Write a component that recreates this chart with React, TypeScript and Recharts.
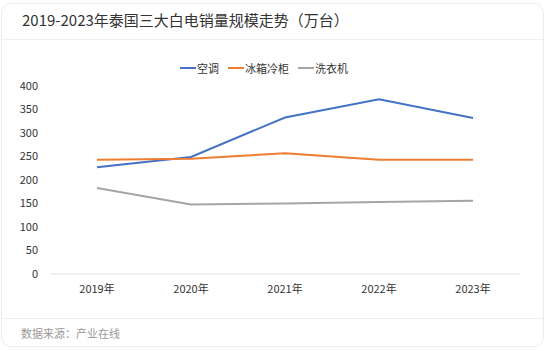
import { LineChart, Line, XAxis, YAxis, Legend, CartesianGrid } from "recharts";

const years = ["2019年", "2020年", "2021年", "2022年", "2023年"];
const airCon = [227, 249, 333, 372, 332];
const fridge = [243, 245, 257, 243, 243];
const washer = [183, 148, 150, 153, 156];
const yTicks = [0, 50, 100, 150, 200, 250, 300, 350, 400];

const series = [
  { key: "airCon", name: "空调", color: "#4472C4" },
  { key: "fridge", name: "冰箱冷柜", color: "#ED7D31" },
  { key: "washer", name: "洗衣机", color: "#A5A5A5" },
];

const data = years.map((year, i) => ({
  year,
  airCon: airCon[i],
  fridge: fridge[i],
  washer: washer[i],
}));

const font = '"Noto Sans CJK SC", "Noto Sans", sans-serif';

function LegendRow() {
  return (
    <div style={{ display: "flex", justifyContent: "center", gap: 9, height: 16, fontSize: 11, color: "#333", fontFamily: font, paddingLeft: 8 }}>
      {series.map((s) => (
        <div key={s.key} style={{ display: "flex", alignItems: "center" }}>
          <span style={{ width: 16, height: 2, background: s.color, marginRight: 1 }} />
          <span>{s.name}</span>
        </div>
      ))}
    </div>
  );
}

export default function App() {
  return (
    <div style={{ position: "absolute", left: 0, top: 0, width: 548, height: 351, background: "#fff", fontFamily: font }}>
      <div style={{ position: "absolute", left: 1, top: 3, width: 543, height: 344, border: "1px solid #ececec", borderRadius: 10, boxSizing: "border-box" }} />
      <div style={{ position: "absolute", left: 22, top: 9, fontSize: 15, color: "#333", lineHeight: "22px" }}>
        2019-2023年泰国三大白电销量规模走势（万台）
      </div>
      <div style={{ position: "absolute", left: 2, top: 39, width: 541, height: 1, background: "#f0f0f0" }} />
      <div style={{ position: "absolute", left: 0, top: 0 }}>
        <LineChart width={548} height={310} data={data} margin={{ top: 70, right: 28, bottom: 6, left: 0 }}>
          <CartesianGrid horizontal={false} vertical={false} />
          <Legend verticalAlign="top" wrapperStyle={{ top: 60 }} content={() => <LegendRow />} />
          <XAxis
            dataKey="year"
            tickLine={false}
            axisLine={{ stroke: "#e3e3e3" }}
            tick={{ fontSize: 11, fill: "#333", fontFamily: font }}
            tickMargin={5}
            padding={{ left: 47, right: 47 }}
            height={30}
          />
          <YAxis
            domain={[0, 400]}
            ticks={yTicks}
            axisLine={false}
            tickLine={false}
            tickSize={0}
            tickMargin={12}
            width={50}
            tick={{ fontSize: 11, fill: "#333", fontFamily: font }}
          />
          {series.map((s) => (
            <Line
              key={s.key}
              type="linear"
              dataKey={s.key}
              name={s.name}
              stroke={s.color}
              strokeWidth={2}
              dot={false}
              isAnimationActive={false}
            />
          ))}
        </LineChart>
      </div>
      <div style={{ position: "absolute", left: 2, top: 318, width: 541, height: 1, background: "#f0f0f0" }} />
      <div style={{ position: "absolute", left: 21, top: 325, fontSize: 11, color: "#999", lineHeight: "16px" }}>
        数据来源：产业在线
      </div>
    </div>
  );
}
